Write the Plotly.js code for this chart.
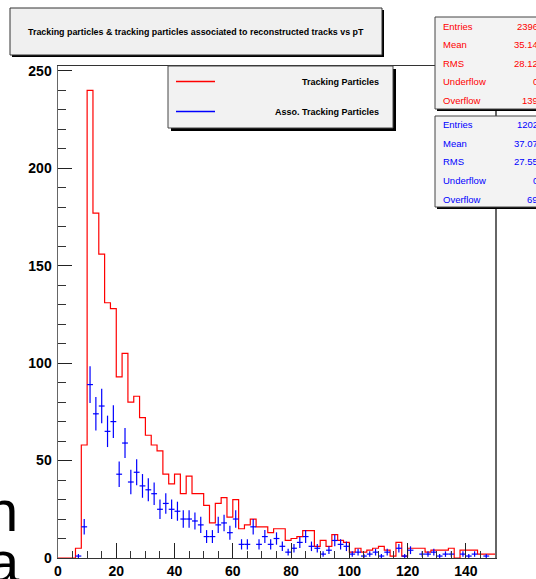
<!DOCTYPE html>
<html>
<head>
<meta charset="utf-8">
<script src="https://cdn.plot.ly/plotly-3.0.1.min.js"></script>
<style>html,body{margin:0;padding:0;background:#fff;}#chart{width:536px;height:579px;}</style>
</head>
<body>
<div id="chart"></div>
<script>
// Histogram definition: 75 bins from 0 to 150 (pT)
var nBins = 75, xMin = 0, xMax = 150;
// Tracking Particles (red) bin contents
var trackingParticles = [0,0,0,5,58,240,177,156,131,128,93,105,80,83,72,63,58,55,43,38,43,33,42,33,33,27,18,28,31,21,30,15,17,20,16,16,13,15,15,9,10,11,14,14,6,9,6,12,9,8,3,5,3,4,5,6,4,1,8,1,5,5,5,3,4,4,4,5,0,4,4,4,2,2,2];
// Asso. Tracking Particles (blue) bin contents
var assoTrackingParticles = [0,0,0,1,16,89,74,78,65,70,43,59,39,44,37,35,33,25,28,25,24,20,20,19,17,11,11,17,18,13,20,7,7,16,7,11,7,10,6,3,5,8,11,6,5,2,4,9,7,6,2,3,1,2,3,1,3,0,5,1,4,0,2,2,3,1,2,2,0,2,1,2,0,1,0];
// Stats boxes
var statLabels = ["Entries","Mean","RMS","Underflow","Overflow"];
var redStats = ["2396","35.14","28.12","0","139"];
var blueStats = ["1202","37.07","27.55","0","69"];
var titleText = "Tracking particles & tracking particles associated to reconstructed tracks vs pT";
var legendLabels = ["Tracking Particles","Asso. Tracking Particles"];
var yTickVals = [0,50,100,150,200,250];
var xTickVals = [0,20,40,60,80,100,120,140];

var RED = "#ff0000", BLUE = "#0000ff";
var bw = (xMax - xMin) / nBins;
var edges = [], stepY = [], centers = [], bY = [], bErr = [];
for (var i = 0; i < nBins; i++) {
  edges.push(xMin + i * bw);
  stepY.push(trackingParticles[i]);
  centers.push(xMin + (i + 0.5) * bw);
  var v = assoTrackingParticles[i];
  bY.push(v > 0 ? v : null);
  bErr.push(v > 0 ? Math.sqrt(v) : 0);
}
edges.push(xMax); stepY.push(trackingParticles[nBins - 1]);

// pixel -> paper helpers
var L = 58, R = 495, T = 66, B = 558, W = R - L, H = B - T;
function px(x){ return (x - L) / W; }
function py(y){ return (B - y) / H; }

var shapes = [], annotations = [];
function box(x0, y0, x1, y1, fill, sh, border) {
  shapes.push({type:"rect", xref:"paper", yref:"paper", x0:px(x0+sh), x1:px(x1+sh), y0:py(y1+sh), y1:py(y0+sh), fillcolor:"#000", line:{width:0}});
  shapes.push({type:"rect", xref:"paper", yref:"paper", x0:px(x0), x1:px(x1), y0:py(y1), y1:py(y0), fillcolor:fill, line:{color:border, width:1}});
}
function txt(x, y, s, size, color, anchor, bold) {
  annotations.push({xref:"paper", yref:"paper", x:px(x), y:py(y), text:s, showarrow:false, xanchor:anchor, yanchor:"middle",
    font:{family:"Liberation Sans, Arial, sans-serif", size:size, color:color, weight: bold ? 700 : 400}});
}

// Title box
box(10, 8, 382, 55, "#f0f0f0", 2, "#333");
txt(196, 31.5, titleText, 8.9, "#000", "center", true);

// Legend box
box(168, 66, 393, 128, "#f2f2f2", 3, "#444");
shapes.push({type:"line", xref:"paper", yref:"paper", x0:px(176), x1:px(215), y0:py(81.5), y1:py(81.5), line:{color:RED, width:1.3}});
shapes.push({type:"line", xref:"paper", yref:"paper", x0:px(176), x1:px(215), y0:py(111.5), y1:py(111.5), line:{color:BLUE, width:1.3}});
txt(381, 81.5, legendLabels[0], 9, "#000", "right", true);
txt(381, 112, legendLabels[1], 9, "#000", "right", true);

// Stats boxes (values run past the right edge, as in the reference)
box(435, 17, 545, 109, "#f3f3f3", 2, "#444");
box(435, 116, 545, 207, "#f3f3f3", 2, "#444");
var redY = [26, 44.5, 63, 81.5, 100];
var blueY = [125, 143.5, 162, 180.5, 199];
for (var k = 0; k < statLabels.length; k++) {
  txt(440.5, redY[k], statLabels[k], 9.5, RED, "left", false);
  txt(540, redY[k], redStats[k], 9.5, RED, "right", false);
  txt(440.5, blueY[k], statLabels[k], 9.5, BLUE, "left", false);
  txt(540, blueY[k], blueStats[k], 9.5, BLUE, "right", false);
}

// stray large glyphs at the bottom-left edge
txt(20, 510, "n", 58, "#000", "right", false);
txt(22, 561, "a", 58, "#000", "right", false);

var traces = [
  {x: edges, y: stepY, type:"scatter", mode:"lines", line:{shape:"hv", color:RED, width:1.2}, hoverinfo:"none", showlegend:false},
  {x: centers, y: bY, type:"scatter", mode:"markers", marker:{size:1, color:BLUE}, showlegend:false, hoverinfo:"none",
   error_x:{type:"constant", value: bw/2, width:0, thickness:1.2, color:BLUE},
   error_y:{type:"data", array: bErr, width:0, thickness:1.2, color:BLUE}}
];

var tickFont = {family:"Liberation Sans, Arial, sans-serif", size:14, color:"#000", weight:700};
var layout = {
  width:536, height:579,
  margin:{l:L, r:536-R, t:T, b:579-B, pad:0},
  paper_bgcolor:"#fff", plot_bgcolor:"#fff",
  showlegend:false,
  xaxis:{range:[xMin, xMax], tickvals:xTickVals, ticktext:xTickVals.map(String), ticks:"inside", ticklen:15, tickwidth:1, tickcolor:"#222",
    minor:{dtick:5, ticks:"inside", ticklen:7.5, tickwidth:1, tickcolor:"#333", showgrid:false},
    showgrid:false, zeroline:false, showline:true, mirror:true, linecolor:"#333", linewidth:1, tickfont:tickFont, automargin:false},
  yaxis:{range:[0, 252.5], tickvals:yTickVals, ticktext:yTickVals.map(String), ticks:"inside", ticklen:14, tickwidth:1, tickcolor:"#222",
    minor:{dtick:10, ticks:"inside", ticklen:7.5, tickwidth:1, tickcolor:"#333", showgrid:false},
    showgrid:false, zeroline:false, showline:true, mirror:true, linecolor:"#666", linewidth:1.5, tickfont:tickFont, automargin:false, ticklabelstandoff:2},
  shapes: shapes,
  annotations: annotations
};
Plotly.newPlot("chart", traces, layout, {displayModeBar:false, staticPlot:true});
</script>
</body>
</html>
